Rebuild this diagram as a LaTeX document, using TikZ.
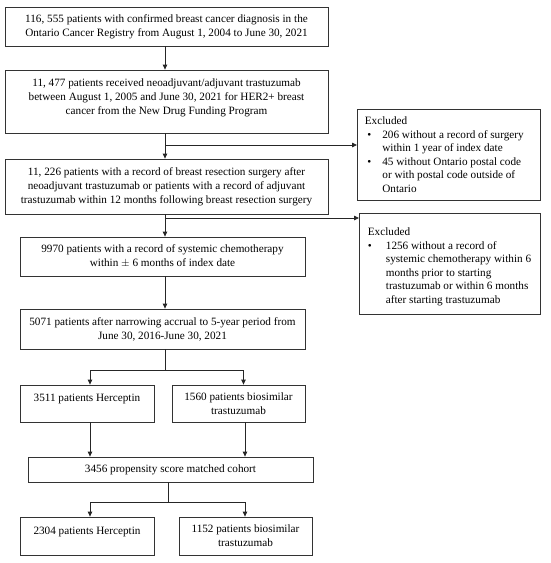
\documentclass[tikz,border=0pt]{standalone}
\usepackage{fontspec}
\setmainfont{Liberation Serif}
\usetikzlibrary{arrows.meta}
\begin{document}
\begin{tikzpicture}[x=1pt,y=-1pt,
  box/.style={draw=black!80, line width=0.8pt, align=center, inner sep=0pt,
    font=\fontsize{11.2}{14}\selectfont},
  exbox/.style={draw=black!80, line width=0.8pt, align=flush left, inner ysep=0pt,
    anchor=north west, font=\fontsize{11.2}{13.5}\selectfont},
  arr/.style={draw=black!85, line width=0.8pt, -{Triangle[length=5pt,width=4.5pt]}},
  ln/.style={draw=black!85, line width=0.8pt}]
\useasboundingbox (0,0) rectangle (550,563);
\node[box, minimum width=323pt, minimum height=39pt] (b1) at (166.5,26.5)
  {116, 555 patients with confirmed breast cancer diagnosis in the\\Ontario Cancer Registry from August 1, 2004 to June 30, 2021};
\node[box, minimum width=323pt, minimum height=63pt, text depth=9pt] (b2) at (166.5,101.5)
  {11, 477 patients received neoadjuvant/adjuvant trastuzumab\\between August 1, 2005 and June 30, 2021 for HER2+ breast\\cancer from the New Drug Funding Program};
\node[box, minimum width=323pt, minimum height=55pt] (b3) at (166.5,186.5)
  {11, 226 patients with a record of breast resection surgery after\\neoadjuvant trastuzumab or patients with a record of adjuvant\\trastuzumab within 12 months following breast resection surgery};
\node[exbox, inner xsep=7.5pt, text width=168pt, minimum width=183pt, minimum height=91pt] (e1) at (357,109)
  {Excluded\\
   \makebox[17.5pt][l]{\hspace{2.5pt}\textbullet}206 without a record of surgery\\
   \hspace*{17.5pt}within 1 year of index date\\
   \makebox[17.5pt][l]{\hspace{2.5pt}\textbullet}45 without Ontario postal code\\
   \hspace*{17.5pt}or with postal code outside of\\
   \hspace*{17.5pt}Ontario};
\node[exbox, inner xsep=8.5pt, text width=164pt, minimum width=181pt, minimum height=101pt, text height=14pt] (e2) at (359,213)
  {Excluded\\
   \makebox[18pt][l]{\textbullet}1256 without a record of\\
   \hspace*{18pt}systemic chemotherapy within 6\\
   \hspace*{18pt}months prior to starting\\
   \hspace*{18pt}trastuzumab or within 6 months\\
   \hspace*{18pt}after starting trastuzumab};
\node[box, minimum width=285pt, minimum height=39pt] (b4) at (162.5,256.5)
  {9970 patients with a record of systemic chemotherapy\\within $\pm$ 6 months of index date};
\node[box, minimum width=285pt, minimum height=40pt] (b5) at (162.5,329)
  {5071 patients after narrowing accrual to 5-year period from\\June 30, 2016-June 30, 2021};
\node[box, minimum width=134pt, minimum height=37pt, text depth=11pt] (b6) at (87,403.5)
  {3511 patients Herceptin};
\node[box, minimum width=133pt, minimum height=37pt] (b7) at (238.5,403.5)
  {1560 patients biosimilar\\trastuzumab};
\node[box, minimum width=285pt, minimum height=25pt] (b8) at (170.5,469.5)
  {3456 propensity score matched cohort};
\node[box, minimum width=134pt, minimum height=38pt, text depth=11pt] (b9) at (87,536)
  {2304 patients Herceptin};
\node[box, minimum width=133pt, minimum height=38pt] (b10) at (245.5,536)
  {1152 patients biosimilar\\trastuzumab};
% connectors
\draw[arr] (165,0 |- b1.south) coordinate (s1) -- (s1 |- b2.north);
\draw[arr] (165,0 |- b2.south) coordinate (s2) -- (s2 |- b3.north);
\coordinate (j1) at (165,145);
\draw[arr] (j1) -- (j1 -| e1.west);
\draw[arr] (165,0 |- b3.south) coordinate (s3) -- (s3 |- b4.north);
\coordinate (j2) at (165,218);
\draw[arr] (j2) -- (j2 -| e2.west);
\draw[arr] (165,0 |- b4.south) coordinate (s4) -- (s4 |- b5.north);
\coordinate (j3) at (165,370);
\coordinate (j3l) at (90,370);
\coordinate (j3r) at (243.5,370);
\draw[ln] (165,0 |- b5.south) -- (j3);
\draw[ln] (j3l) -- (j3r);
\draw[arr] (j3l) -- (j3l |- b6.north);
\draw[arr] (j3r) -- (j3r |- b7.north);
\draw[arr] (90,0 |- b6.south) coordinate (s6) -- (s6 |- b8.north);
\draw[arr] (245,0 |- b7.south) coordinate (s7) -- (s7 |- b8.north);
\coordinate (j4) at (168,502);
\coordinate (j4l) at (90,502);
\coordinate (j4r) at (245,502);
\draw[ln] (168,0 |- b8.south) -- (j4);
\draw[ln] (j4l) -- (j4r);
\draw[arr] (j4l) -- (j4l |- b9.north);
\draw[arr] (j4r) -- (j4r |- b10.north);
\end{tikzpicture}
\end{document}
